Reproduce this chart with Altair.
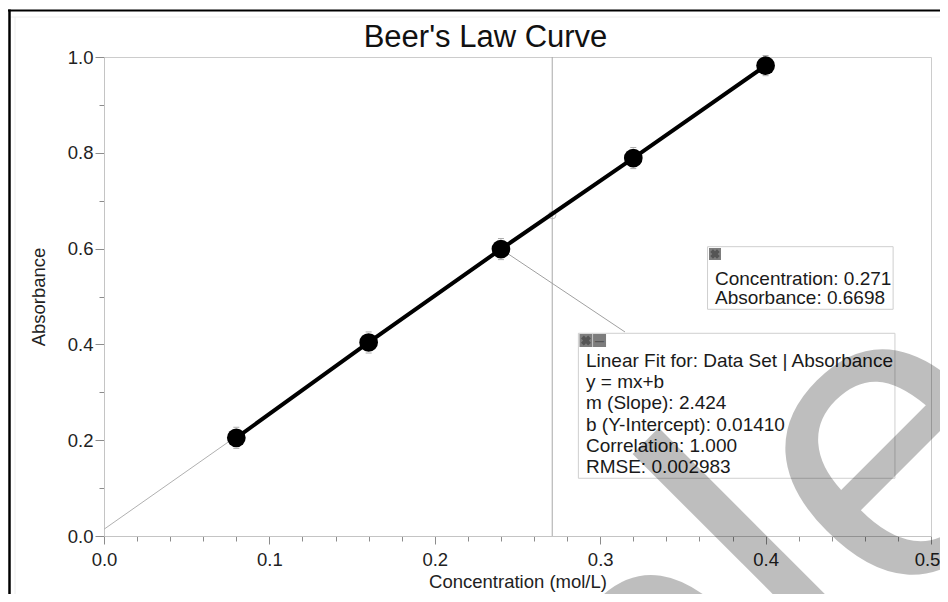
import altair as alt
import pandas as pd

FONT = "Liberation Sans"

# ---- data ----
concentration = [0.08, 0.16, 0.24, 0.32, 0.40]
absorbance = [0.205, 0.404, 0.599, 0.789, 0.982]
abs_error = [0.022, 0.022, 0.022, 0.022, 0.021]

fit_x = [0.0, 0.40]
fit_y = [0.0141, 0.9837]

cursor_x = 0.271
cursor_y = 0.6698

x_major = [0.0, 0.1, 0.2, 0.3, 0.4, 0.5]
x_minor = [0.02, 0.04, 0.06, 0.08, 0.12, 0.14, 0.16, 0.18, 0.22, 0.24, 0.26, 0.28,
           0.32, 0.34, 0.36, 0.38, 0.42, 0.44, 0.46, 0.48]
y_major = [0.0, 0.2, 0.4, 0.6, 0.8, 1.0]
y_minor = [0.1, 0.3, 0.5, 0.7, 0.9]

cursor_lines = ["Concentration: 0.271", "Absorbance: 0.6698"]
fit_lines = ["Linear Fit for: Data Set | Absorbance", "y = mx+b", "m (Slope): 2.424",
             "b (Y-Intercept): 0.01410", "Correlation: 1.000", "RMSE: 0.002983"]

# ---- tables ----
pts = pd.DataFrame({"c": concentration, "a": absorbance, "e": abs_error})
pts["lo"] = pts["a"] - pts["e"]
pts["hi"] = pts["a"] + pts["e"]
fit = pd.DataFrame({"c": fit_x, "a": fit_y})
one = pd.DataFrame({"k": [0]})

cur_txt = pd.DataFrame({"t": cursor_lines, "x": [0.3694] * 2, "y": [0.5234, 0.4837]})
fit_txt = pd.DataFrame({"t": fit_lines, "x": [0.2914] * 6,
                        "y": [0.3522 - i * 0.04405 for i in range(len(fit_lines))]})

xs = alt.Scale(domain=[0, 0.5], nice=False, zero=False)
ys = alt.Scale(domain=[0, 1], nice=False, zero=False)

axis_common = dict(labelFont=FONT, titleFont=FONT, labelFontSize=18.5, titleFontSize=18.5,
                   labelColor="#222", titleColor="#222", titleFontWeight="normal",
                   domainColor="#c4c4c4", tickColor="#8c8c8c", grid=False, format=".1f",
                   labelFlush=False, labelOverlap=False)

x_axis = alt.Axis(values=x_major, tickSize=8, labelPadding=6, titlePadding=4,
                  title="Concentration (mol/L)", orient="bottom",
                  labelOffset={"condition": {"test": "datum.value >= 0.49", "value": -4},
                               "value": 0},
                  **axis_common)
y_axis = alt.Axis(values=y_major, tickSize=9, labelPadding=2, titlePadding=19,
                  title="Absorbance", orient="left", **axis_common)
x_axis_minor = alt.Axis(values=x_minor, tickSize=5, labels=False, domain=False, title="",
                        orient="bottom", tickColor="#8c8c8c", grid=False)
y_axis_minor = alt.Axis(values=y_minor, tickSize=5, labels=False, domain=False, title="",
                        orient="left", tickColor="#8c8c8c", grid=False)

# thin linear fit line (carries the minor ticks)
fit_layer = alt.Chart(fit).mark_line(color="#b0b0b0", strokeWidth=1).encode(
    x=alt.X("c:Q", scale=xs, axis=x_axis_minor),
    y=alt.Y("a:Q", scale=ys, axis=y_axis_minor),
)

# cursor vertical line
vline = alt.Chart(one).mark_rule(color="#a8a8a8", strokeWidth=1).encode(
    x=alt.XDatum(cursor_x, axis=None),
    y=alt.YDatum(0.0, axis=None),
    y2=alt.Y2Datum(1.0),
)
vcircle = alt.Chart(one).mark_point(shape="circle", size=55, color="#a8a8a8",
                                    strokeWidth=1, filled=False).encode(
    x=alt.XDatum(cursor_x, axis=None),
    y=alt.YDatum(cursor_y, axis=None),
)

# leader line from point to fit box
leader = alt.Chart(one).mark_rule(color="#a0a0a0", strokeWidth=1).encode(
    x=alt.XDatum(0.24, axis=None), y=alt.YDatum(0.599, axis=None),
    x2=alt.X2Datum(0.315), y2=alt.Y2Datum(0.4259),
)

# data line + points (main axes)
data_line = alt.Chart(pts).mark_line(color="black", strokeWidth=4).encode(
    x=alt.X("c:Q", scale=xs, axis=x_axis),
    y=alt.Y("a:Q", scale=ys, axis=y_axis),
)
caps_lo = alt.Chart(pts).mark_tick(color="#888", thickness=1, size=6, orient="horizontal").encode(
    x=alt.X("c:Q", axis=None), y=alt.Y("lo:Q", axis=None))
caps_hi = alt.Chart(pts).mark_tick(color="#888", thickness=1, size=6, orient="horizontal").encode(
    x=alt.X("c:Q", axis=None), y=alt.Y("hi:Q", axis=None))
dots = alt.Chart(pts).mark_circle(color="black", size=350, opacity=1).encode(
    x=alt.X("c:Q", axis=None), y=alt.Y("a:Q", axis=None))

# annotation boxes
box1 = alt.Chart(one).mark_rect(fill="white", stroke="#cfcfcf", strokeWidth=1).encode(
    x=alt.XDatum(0.3649, axis=None), x2=alt.X2Datum(0.4771),
    y=alt.YDatum(0.604, axis=None), y2=alt.Y2Datum(0.4733))
box2 = alt.Chart(one).mark_rect(fill="white", stroke="#cfcfcf", strokeWidth=1).encode(
    x=alt.XDatum(0.2868, axis=None), x2=alt.X2Datum(0.4782),
    y=alt.YDatum(0.4232, axis=None), y2=alt.Y2Datum(0.1205))

icon1 = alt.Chart(one).mark_square(color="#7d7d7d", size=144, opacity=1).encode(
    x=alt.XDatum(0.3694, axis=None), y=alt.YDatum(0.5887, axis=None))
icon1x = alt.Chart(one).mark_point(shape="cross", angle=45, color="#555", size=90,
                                   filled=True, opacity=1).encode(
    x=alt.XDatum(0.3694, axis=None), y=alt.YDatum(0.5887, axis=None))
icon2a = alt.Chart(one).mark_square(color="#7d7d7d", size=169, opacity=1).encode(
    x=alt.XDatum(0.2914, axis=None), y=alt.YDatum(0.4081, axis=None))
icon2ax = alt.Chart(one).mark_point(shape="cross", angle=45, color="#555", size=100,
                                    filled=True, opacity=1).encode(
    x=alt.XDatum(0.2914, axis=None), y=alt.YDatum(0.4081, axis=None))
icon2b = alt.Chart(one).mark_square(color="#7d7d7d", size=169, opacity=1).encode(
    x=alt.XDatum(0.2996, axis=None), y=alt.YDatum(0.4081, axis=None))
icon2bm = alt.Chart(one).mark_text(text="\u2013", font=FONT, fontSize=16, color="#555",
                                   baseline="middle", align="center").encode(
    x=alt.XDatum(0.2996, axis=None), y=alt.YDatum(0.4081, axis=None))

txt_style = dict(align="left", baseline="alphabetic", font=FONT, fontSize=19, color="#1a1a1a")
cur_text = alt.Chart(cur_txt).mark_text(**txt_style).encode(
    x=alt.X("x:Q", axis=None), y=alt.Y("y:Q", axis=None), text="t:N")
fit_text = alt.Chart(fit_txt).mark_text(**txt_style).encode(
    x=alt.X("x:Q", axis=None), y=alt.Y("y:Q", axis=None), text="t:N")

# title
title = alt.Chart(one).mark_text(text="Beer's Law Curve", font=FONT, fontSize=31,
                                 align="center", baseline="alphabetic", color="#111").encode(
    x=alt.value(381.5), y=alt.value(-10.3))

# outer picture frame
frame_top = alt.Chart(one).mark_rule(color="black", strokeWidth=2).encode(
    x=alt.value(-96), x2=alt.value(845), y=alt.value(-46.5))
frame_left = alt.Chart(one).mark_rule(color="black", strokeWidth=2.5).encode(
    x=alt.value(-94.5), y=alt.value(-47.5), y2=alt.value(543))
frame_in_top = alt.Chart(one).mark_rule(color="#eeeeee", strokeWidth=1).encode(
    x=alt.value(-93), x2=alt.value(845), y=alt.value(-40))
frame_in_left = alt.Chart(one).mark_rule(color="#eeeeee", strokeWidth=1).encode(
    x=alt.value(-89), y=alt.value(-40), y2=alt.value(543))

# watermark
watermark = alt.Chart(one).mark_text(text="Sample", font=FONT, fontSize=420, angle=315,
                                     align="left", baseline="alphabetic", color="black",
                                     opacity=0.25).encode(
    x=alt.value(-52), y=alt.value(1408))

chart = alt.layer(
    frame_in_top, frame_in_left, frame_top, frame_left,
    fit_layer, vline, vcircle, leader, data_line, caps_lo, caps_hi, dots,
    box1, box2, icon1, icon1x, icon2a, icon2ax, icon2b, icon2bm, cur_text, fit_text,
    title, watermark,
).resolve_axis(x="independent", y="independent").properties(
    width=827, height=479,
    padding={"left": 96, "top": 49, "right": 9, "bottom": 58},
    autosize=alt.AutoSizeParams(type="none"),
    background="white",
).configure_view(stroke="#cccccc", strokeWidth=1)

chart.save("out.html", embed_options={"renderer": "svg", "actions": False})
